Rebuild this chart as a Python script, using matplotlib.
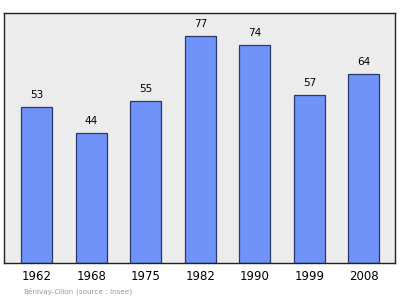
import matplotlib.pyplot as plt

years = ["1962", "1968", "1975", "1982", "1990", "1999", "2008"]
population = [53, 44, 55, 77, 74, 57, 64]
commune = "Bénivay-Ollon"
source = "(source : Insee)"


def main() -> None:
    fig = plt.figure(figsize=(4.0, 2.99), dpi=100)
    ax = fig.add_axes([0.01, 0.12, 0.9775, 0.8365])
    ax.set_facecolor("#ececec")

    x = range(len(years))
    ax.bar(x, population, width=0.57, color="#7093fa", edgecolor="#2a3a6a",
           linewidth=0.9, zorder=2)
    for xi, v in zip(x, population):
        ax.text(xi, v + 2.3, str(v), ha="center", va="bottom", fontsize=7.5)

    ax.set_xlim(-0.6, 6.57)
    ax.set_ylim(0, 84.7)
    ax.set_xticks(list(x))
    ax.set_xticklabels(years, fontsize=8.5)
    ax.tick_params(axis="x", length=0, pad=5)
    ax.set_yticks([])
    for spine in ax.spines.values():
        spine.set_color("#222222")
        spine.set_linewidth(1.0)

    fig.text(0.058, 0.017, commune, fontsize=5.2, color="#999999")
    fig.text(0.19, 0.017, source, fontsize=5.2, color="#999999")

    fig.savefig("out.png", dpi=100)


if __name__ == "__main__":
    main()
